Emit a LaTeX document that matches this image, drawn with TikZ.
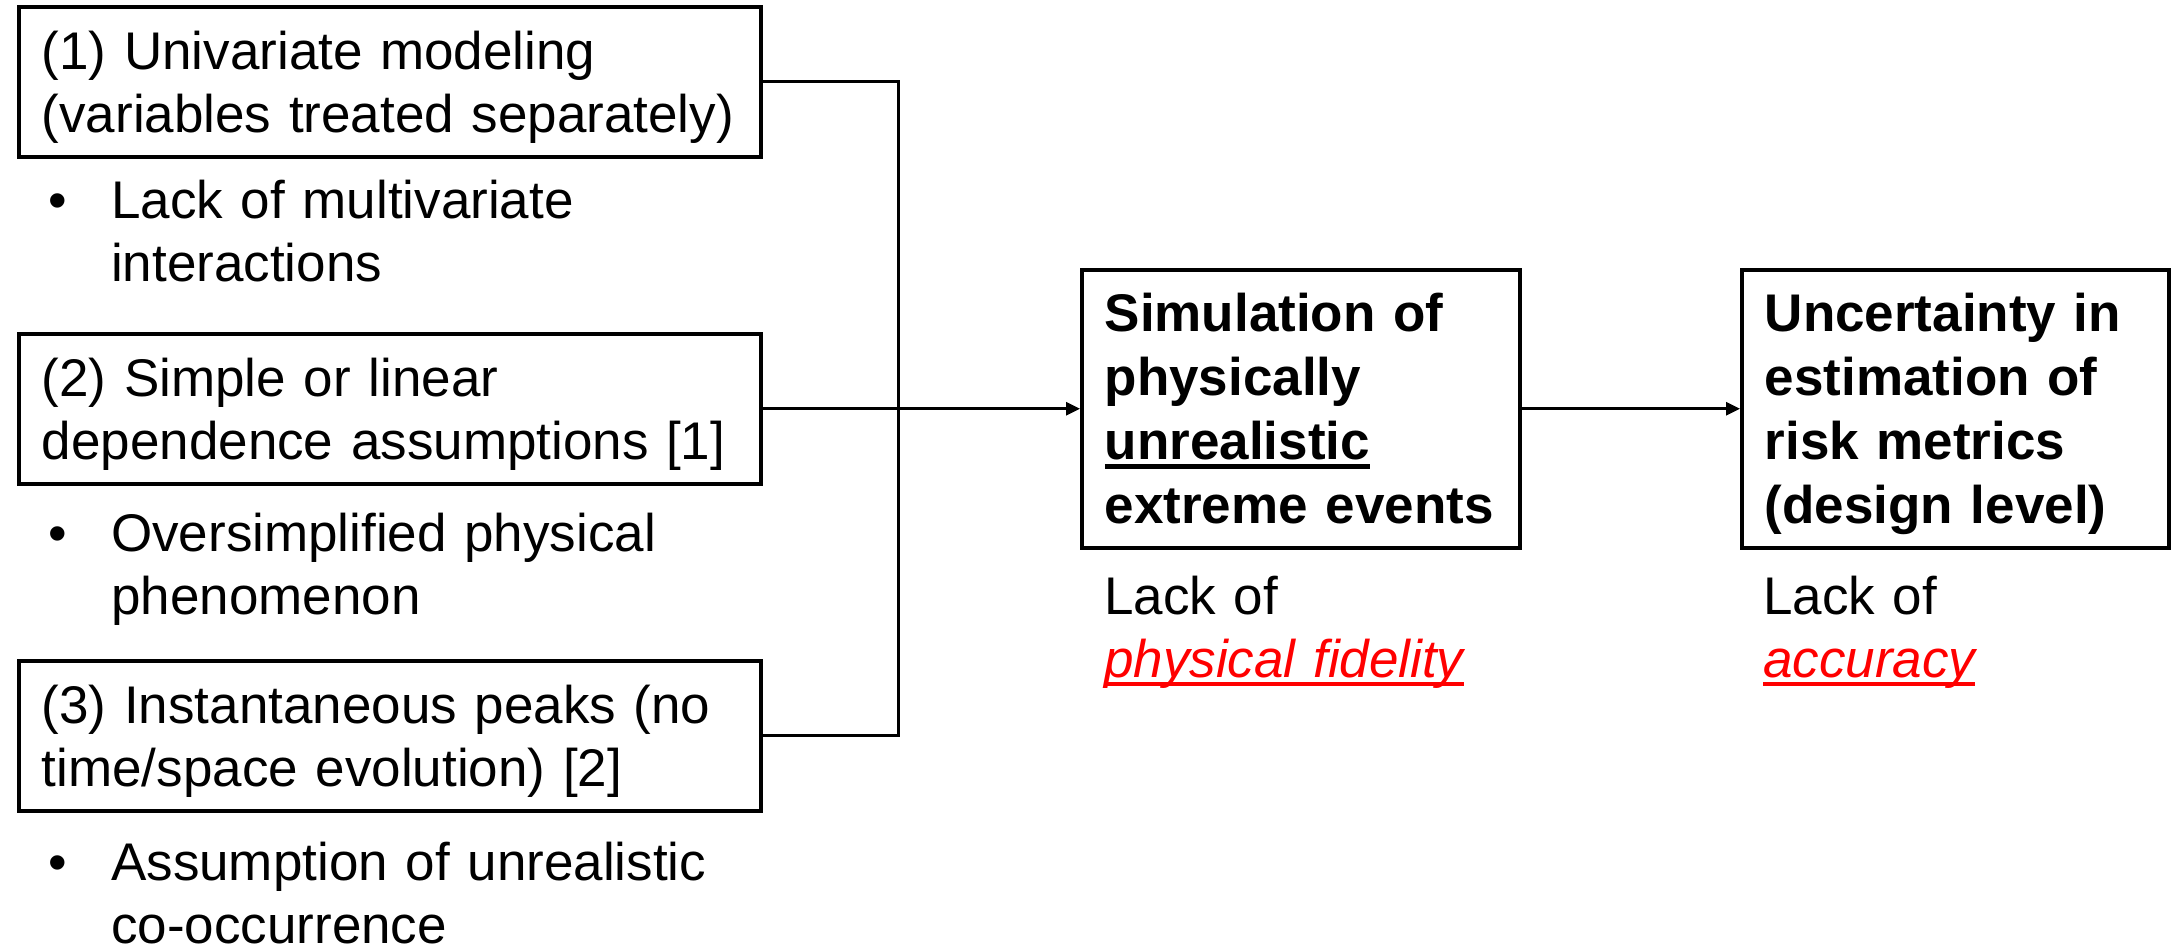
\documentclass[tikz,border=0pt]{standalone}
\usepackage{fontspec}
\setmainfont{Liberation Sans}
\usetikzlibrary{arrows.meta}
\newcommand\myul[1]{\leavevmode\setbox0\hbox{#1}\rlap{\rule[-9pt]{\wd0}{4.5pt}}\box0}
\begin{document}
\begin{tikzpicture}[x=1pt,y=-1pt,
  bigfont/.style={font=\fontsize{53}{63}\selectfont},
  boldfont/.style={font=\fontsize{53}{64}\selectfont\bfseries},
  srcbox/.style={draw, line width=3.5pt, anchor=north west, bigfont, align=left,
    inner xsep=23pt, inner ysep=0pt, text height=38pt, text depth=63pt,
    minimum width=742pt, minimum height=150pt, text width=696pt},
  effbox/.style={draw, line width=3.5pt, anchor=north west, boldfont, align=left,
    inner xsep=23pt, inner ysep=0pt, text height=38pt, text depth=192pt,
    minimum height=278pt},
  item/.style={anchor=base west, bigfont, align=left, text width=900pt, inner sep=0pt},
  note/.style={anchor=base west, bigfont, align=left, text width=450pt, inner sep=0pt},
  conn/.style={line width=3pt},
  arr/.style={line width=3pt, -{Triangle[length=14pt,width=13pt]}}
]
\useasboundingbox (0,0) rectangle (2177,948);

% left boxes
\node[srcbox] (b1) at (17,5) {(1) Univariate modeling\\(variables treated separately)};
\node[srcbox] (b2) at (17,332) {(2) Simple or linear\\dependence assumptions [1]};
\node[srcbox] (b3) at (17,659) {(3) Instantaneous peaks (no\\time/space evolution) [2]};

% bullet items
\node[item] (i1) at (48,218) {\makebox[63pt][l]{•}Lack of multivariate\\\hspace*{63pt}interactions};
\node[item] (i2) at (48,551) {\makebox[63pt][l]{•}Oversimplified physical\\\hspace*{63pt}phenomenon};
\node[item] (i3) at (48,880) {\makebox[63pt][l]{•}Assumption of unrealistic\\\hspace*{63pt}co-occurrence};

% right boxes
\node[effbox, minimum width=438pt, text width=392pt] (sim) at (1080,268)
  {Simulation of\\physically\\\myul{unrealistic}\\extreme events};
\node[effbox, minimum width=427pt, text width=381pt] (unc) at (1740,268)
  {Uncertainty in\\estimation of\\risk metrics\\(design level)};

% notes
\node[note] (n1) at (1104,614) {Lack of\\{\color{red}\itshape\myul{physical fidelity}}};
\node[note] (n2) at (1763,614) {Lack of\\{\color{red}\itshape\myul{accuracy}}};

% connectors
\coordinate (jx) at (898,407);
\draw[conn] (b1.east) -| (jx) |- (b3.east);
\draw[arr] (b2.east) -- (sim.west);
\draw[arr] (sim.east) -- (unc.west);
\end{tikzpicture}
\end{document}
